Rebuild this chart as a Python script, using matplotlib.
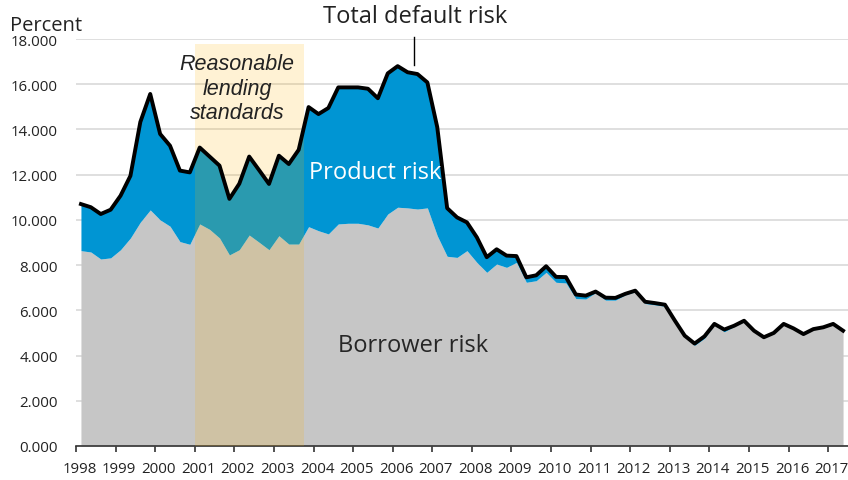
import numpy as np
import matplotlib
matplotlib.use('Agg')
import matplotlib.pyplot as plt

# quarterly categories, 1998Q1 .. 2017Q2
quarters = ['{}Q{}'.format(y, q) for y in range(1998, 2018) for q in range(1, 5)][:78]

# total default risk (black line), percent
total = [10.70, 10.56, 10.26, 10.45, 11.07, 11.95, 14.33, 15.57, 13.80, 13.28, 12.18, 12.10,
         13.20, 12.80, 12.40, 10.93, 11.60, 12.80, 12.20, 11.59, 12.84, 12.47, 13.10, 14.99,
         14.68, 14.95, 15.86, 15.86, 15.86, 15.80, 15.38, 16.48, 16.80, 16.53, 16.45, 16.08,
         14.10, 10.52, 10.11, 9.89, 9.23, 8.35, 8.70, 8.42, 8.40, 7.46, 7.55, 7.95,
         7.48, 7.47, 6.70, 6.65, 6.83, 6.56, 6.55, 6.73, 6.87, 6.38, 6.32, 6.25,
         5.55, 4.88, 4.53, 4.85, 5.40, 5.15, 5.32, 5.54, 5.10, 4.81, 5.00, 5.40,
         5.20, 4.95, 5.17, 5.25, 5.40, 5.10]

# borrower risk (grey area top)
borrower = [8.64, 8.58, 8.27, 8.32, 8.68, 9.20, 9.90, 10.44, 10.00, 9.72, 9.04, 8.92,
            9.82, 9.58, 9.20, 8.45, 8.68, 9.33, 9.01, 8.68, 9.30, 8.93, 8.93, 9.70,
            9.52, 9.38, 9.82, 9.85, 9.85, 9.78, 9.64, 10.26, 10.56, 10.53, 10.48, 10.53,
            9.30, 8.39, 8.34, 8.64, 8.12, 7.68, 8.05, 7.90, 8.12, 7.24, 7.31, 7.68,
            7.24, 7.21, 6.52, 6.50, 6.78, 6.45, 6.45, 6.68, 6.82, 6.30, 6.24, 6.18,
            5.50, 4.83, 4.45, 4.76, 5.36, 5.05, 5.28, 5.50, 5.07, 4.78, 4.97, 5.37,
            5.17, 4.92, 5.14, 5.22, 5.37, 5.07]

# "reasonable lending standards" period
shade_start = '2001Q1'
shade_end = '2003Q3'
shade_top = 17.8

yticks = [0, 2, 4, 6, 8, 10, 12, 14, 16, 18]

plt.rcParams['font.family'] = ['Open Sans', 'DejaVu Sans']

fig = plt.figure(figsize=(8.48, 4.81), dpi=100)
ax = fig.add_axes([76 / 848, 1 - 447 / 481, 1 - 76 / 848, (447 - 40) / 481])

x = np.arange(len(quarters))
ax.fill_between(x, 0, borrower, color='#c6c6c6', lw=0, zorder=2)
ax.fill_between(x, borrower, total, color='#0095d3', lw=0, zorder=2)

s0 = quarters.index(shade_start) - 0.5
s1 = quarters.index(shade_end) + 0.5
ax.fill_between([s0, s1], 0, shade_top, color='#ffb300', alpha=0.17, lw=0, zorder=3)

ax.plot(x, total, color='black', lw=2.8, solid_joinstyle='round', zorder=4)

ax.set_xlim(-0.5, len(quarters) - 0.5)
ax.set_ylim(0, 18)
ax.set_yticks(yticks)
ax.set_yticklabels(['{:.3f}'.format(v) for v in yticks])
ax.grid(axis='y', color='#d9d9d9', lw=1.2)
ax.set_axisbelow(True)

# year labels and tick marks at year boundaries
q1 = [i for i, q in enumerate(quarters) if q.endswith('Q1')]
ax.set_xticks([i - 0.15 for i in q1])
ax.set_xticklabels([quarters[i][:4] for i in q1])
ax.set_xticks([i - 0.5 for i in q1], minor=True)
ax.tick_params(axis='x', which='major', length=0, pad=11, labelsize=10.8, colors='#222222')
ax.tick_params(axis='x', which='minor', length=4, width=1.2, color='#333333')
ax.tick_params(axis='y', length=0, pad=13, labelsize=10.8, colors='#222222')

for side in ['top', 'right', 'left']:
    ax.spines[side].set_visible(False)
ax.spines['bottom'].set_color('#333333')
ax.spines['bottom'].set_linewidth(1.2)

ax.text(15.8, 15.83, 'Reasonable\nlending\nstandards', ha='center', va='center',
        fontsize=15.5, style='italic', family='Liberation Sans', color='#222222', zorder=5)
ax.text(29.7, 12.12, 'Product risk', ha='center', va='center', fontsize=17, color='white', zorder=5)
ax.text(33.6, 4.47, 'Borrower risk', ha='center', va='center', fontsize=17, color='#262626', zorder=5)
ax.text(33.8, 19.0, 'Total default risk', ha='center', va='center', fontsize=17,
        color='#222222', clip_on=False)
ax.plot([33.6, 33.6], [18.1, 16.85], color='black', lw=1, clip_on=False, zorder=5)

fig.text(10 / 848, 1 - 26 / 481, 'Percent', ha='left', va='center', fontsize=14.5, color='#222222')

fig.savefig('out.png', dpi=100)
